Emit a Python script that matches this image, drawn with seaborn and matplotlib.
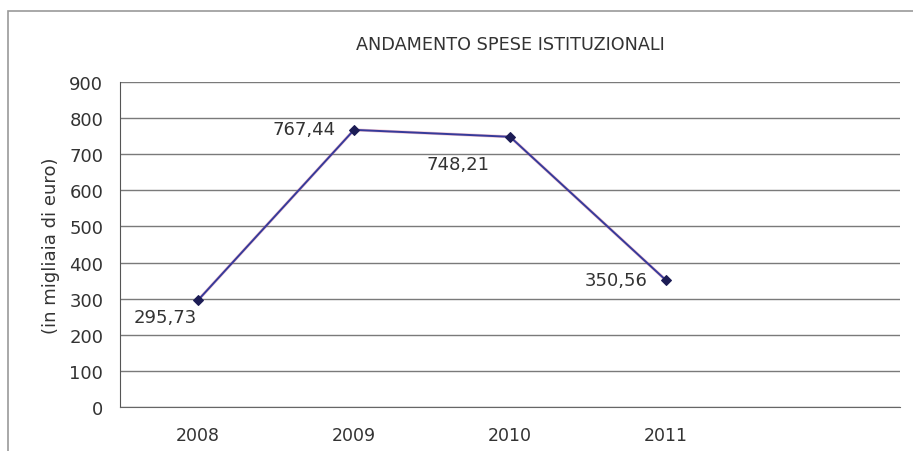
import pandas as pd
import seaborn as sns
import matplotlib.pyplot as plt
from matplotlib.patches import Rectangle

# data
years = ['2008', '2009', '2010', '2011']
spese = [295.73, 767.44, 748.21, 350.56]
etichette = ['295,73', '767,44', '748,21', '350,56']
y_ticks = [0, 100, 200, 300, 400, 500, 600, 700, 800, 900]

df = pd.DataFrame({'pos': range(len(years)), 'spese': spese})

sns.set_style('white')
plt.rcParams['font.family'] = ['DejaVu Sans']

fig = plt.figure(figsize=(9.13, 4.52), dpi=100)
ax = fig.add_axes([0.1314, 0.0973, 0.8546, 0.7191])

# outer chart frame (bottom and right cut off like the scan)
fig.patches.append(Rectangle((8 / 913, -0.05), 1.2, 1.05 - 12 / 452, transform=fig.transFigure,
                             fill=False, edgecolor='#9a9a9a', linewidth=1.2))

# faint reddish fringe under the blue line, as in the scan
sns.lineplot(x='pos', y='spese', data=df, ax=ax, color='#d0507a', linewidth=2.2, alpha=0.35)
sns.lineplot(x='pos', y='spese', data=df, ax=ax, color='#363a9a', linewidth=1.4,
             marker='D', markersize=5.5, markerfacecolor='#1c1c55', markeredgecolor='#1c1c55')

ax.set_xlim(-0.5, 4.5)
ax.set_ylim(0, 900)
ax.set_xticks(range(len(years)))
ax.set_xticklabels(years)
ax.set_yticks(y_ticks)
ax.yaxis.grid(True, color='#7a7a7a', linewidth=1)
ax.set_axisbelow(True)

for s in ['top', 'right']:
    ax.spines[s].set_visible(False)
ax.spines['left'].set_color('#555555')
ax.spines['bottom'].set_color('#666666')

ax.tick_params(axis='y', length=4, width=1, color='#555555', pad=8, labelsize=13, labelcolor='#333333')
ax.tick_params(axis='x', length=0, pad=14, labelsize=12.5, labelcolor='#333333')
ax.set_xlabel('')
ax.set_ylabel('(in migliaia di euro)', fontsize=13, color='#333333', labelpad=7)
ax.set_title('ANDAMENTO SPESE ISTITUZIONALI', fontsize=12.7, color='#333333', pad=24)

# value labels placed like in the original
offsets = [(-1, -17), (-18, 1), (-21, -27), (-19, 0)]
for i, (txt, off) in enumerate(zip(etichette, offsets)):
    ax.annotate(txt, (i, spese[i]), xytext=off, textcoords='offset pixels',
                ha='right', va='center', fontsize=13, color='#333333')

plt.savefig('out.png', dpi=100)
